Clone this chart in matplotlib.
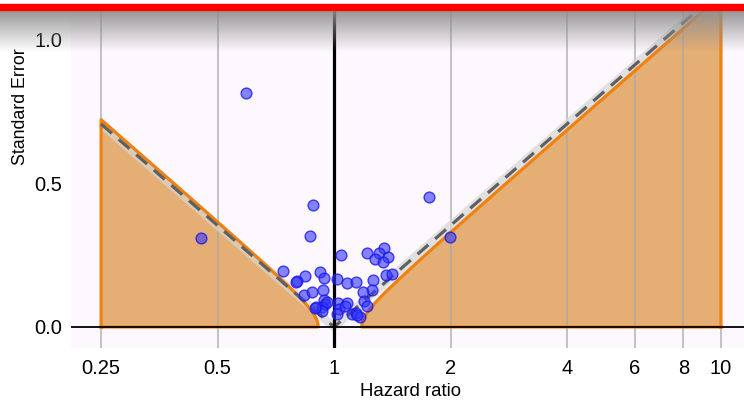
import numpy as np
import matplotlib
matplotlib.use("Agg")
import matplotlib.pyplot as plt
from matplotlib.patches import Rectangle

plt.rcParams['font.family'] = ['Liberation Sans', 'DejaVu Sans']

# study estimates
hazard_ratio = [0.592, 0.453, 0.884, 0.869, 1.763, 1.99, 1.044, 1.217, 1.346, 1.31,
                1.381, 1.279, 1.341, 0.737, 0.920, 0.942, 0.843, 0.804, 0.796, 0.837,
                0.877, 0.935, 1.018, 1.082, 1.138, 1.261, 1.254, 1.186, 1.363, 1.412,
                0.944, 0.950, 0.933, 0.900, 0.933, 0.957, 1.026, 1.032, 1.020, 1.080,
                1.070, 1.111, 1.140, 1.167, 1.195, 1.215, 1.149, 0.893]
std_error = [0.815, 0.310, 0.425, 0.317, 0.454, 0.312, 0.252, 0.259, 0.275, 0.259,
             0.243, 0.236, 0.228, 0.195, 0.193, 0.171, 0.178, 0.159, 0.156, 0.110,
             0.121, 0.129, 0.168, 0.154, 0.157, 0.164, 0.129, 0.121, 0.181, 0.184,
             0.094, 0.080, 0.071, 0.069, 0.055, 0.088, 0.083, 0.062, 0.046, 0.083,
             0.073, 0.044, 0.048, 0.036, 0.090, 0.073, 0.042, 0.065]

x_ticks = [0.25, 0.5, 1, 2, 4, 6, 8, 10]
x_tick_labels = ['0.25', '0.5', '1', '2', '4', '6', '8', '10']
y_ticks = [0.0, 0.5, 1.0]

pooled_hr = 1.0        # centre of dashed funnel
region_center = 1.036  # centre of the shaded contour
tau = 0.066            # between-study sd widening the contour
z = 1.96
x_lo, x_hi = 0.25, 10

orange = '#ee8210'
orange_fill = '#e5ae74'

fig = plt.figure(figsize=(7.44, 4.00), dpi=100)
ax = fig.add_axes([71 / 744, 52 / 400, 673 / 744, 339 / 400])
ax.set_facecolor('#fdf8fd')
ax.set_xscale('log')
ax.set_xlim(0.209, 11.47)
ax.set_ylim(-0.0732, 1.108)

for t in x_ticks:
    if t != 1:
        ax.axvline(t, color='#a8a8a8', lw=1.2, zorder=3, alpha=0.8)

# shaded regions outside the contour
se_top = 1.3
c = np.log(region_center)
se_int = np.sqrt(((c - np.log(x_lo)) / z) ** 2 - tau ** 2)
s = np.linspace(0, se_int, 300)
left_x = np.exp(c - z * np.sqrt(s ** 2 + tau ** 2))
left_poly_x = np.concatenate([[x_lo], left_x, [x_lo], [x_lo]])
left_poly_y = np.concatenate([[0], s, [se_int], [0]])
ax.fill(left_poly_x, left_poly_y, facecolor=orange_fill, edgecolor='none', zorder=2)

s2 = np.linspace(0, se_top, 300)
right_x = np.exp(c + z * np.sqrt(s2 ** 2 + tau ** 2))
right_poly_x = np.concatenate([[x_hi], right_x, [x_hi], [x_hi]])
right_poly_y = np.concatenate([[0], s2, [se_top], [0]])
ax.fill(right_poly_x, right_poly_y, facecolor=orange_fill, edgecolor='none', zorder=2)

# funnel around pooled estimate
s_left = np.linspace(0, np.log(pooled_hr / x_lo) / z, 100)
s_right = np.linspace(0, se_top, 100)
fx = np.concatenate([pooled_hr * np.exp(-z * s_left[::-1]), pooled_hr * np.exp(z * s_right)])
fy = np.concatenate([s_left[::-1], s_right])
ax.plot(fx, fy, color='#d6d6d6', lw=6, alpha=0.7, zorder=4, solid_capstyle='butt')

ax.plot(left_poly_x, left_poly_y, color=orange, lw=2.3, zorder=4.5,
        solid_joinstyle='round')
ax.plot(right_poly_x, right_poly_y, color=orange, lw=2.3, zorder=4.5,
        solid_joinstyle='round')

ax.plot(fx, fy, color='#606060', lw=2.3, ls=(0, (4.5, 2.8)), zorder=5)

ax.axhline(0, color='black', lw=1.3, zorder=6)
ax.axvline(1, color='black', lw=2.3, zorder=6)

ax.scatter(hazard_ratio, std_error, s=60, facecolor=(0.2, 0.2, 1.0, 0.6),
           edgecolor=(0.1, 0.1, 0.9, 0.8), lw=1.0, zorder=7)

ax.set_xticks(x_ticks)
ax.set_xticklabels(x_tick_labels)
ax.minorticks_off()
ax.set_yticks(y_ticks)
ax.set_yticklabels(['0.0', '0.5', '1.0'])
ax.tick_params(axis='both', length=0, labelsize=14.5)
ax.tick_params(axis='x', pad=8)
ax.tick_params(axis='y', pad=6.5)
for sp in ax.spines.values():
    sp.set_visible(False)

ax.set_xlabel('Hazard ratio', fontsize=13.4)
ax.xaxis.set_label_coords(0.505, -0.103)
ax.set_ylabel('Standard Error', fontsize=12.8)
ax.yaxis.set_label_coords(-0.062, 0.711)

# grey fade along the top edge and red bar
grad_ax = fig.add_axes([0, 348 / 400, 1, 43 / 400], zorder=10)
alpha = np.linspace(0.95, 0.0, 100)[:, None]
img = np.zeros((100, 2, 4))
img[..., 0:3] = 0.56
img[..., 3] = alpha
grad_ax.imshow(img, aspect='auto', extent=[0, 1, 0, 1])
grad_ax.axis('off')

fig.patches.append(Rectangle((0, 390.5 / 400), 1, 5.5 / 400, transform=fig.transFigure,
                             color='#ff0000', zorder=20))

fig.savefig('out.png', dpi=100)
